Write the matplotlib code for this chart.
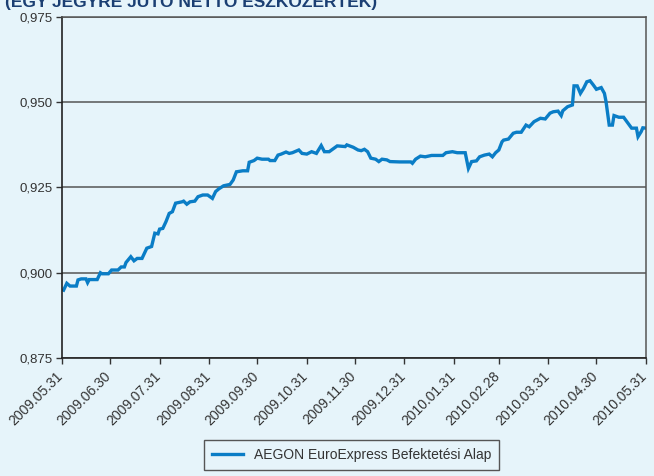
import datetime as dt

import matplotlib
matplotlib.use('Agg')
import matplotlib.pyplot as plt
import matplotlib.transforms as mtransforms

# napi nettó eszközérték (leolvasva)
dates = [
	'2009-06-01', '2009-06-03', '2009-06-05', '2009-06-09', '2009-06-10', '2009-06-12', '2009-06-15', '2009-06-16',
	'2009-06-17', '2009-06-22', '2009-06-24', '2009-06-25', '2009-06-29', '2009-07-01', '2009-07-05', '2009-07-07',
	'2009-07-09', '2009-07-10', '2009-07-13', '2009-07-15', '2009-07-17', '2009-07-20', '2009-07-23', '2009-07-26',
	'2009-07-28', '2009-07-30', '2009-07-31', '2009-08-02', '2009-08-04', '2009-08-06', '2009-08-08', '2009-08-10',
	'2009-08-14', '2009-08-15', '2009-08-17', '2009-08-19', '2009-08-22', '2009-08-24', '2009-08-27', '2009-08-30',
	'2009-09-02', '2009-09-04', '2009-09-06', '2009-09-09', '2009-09-13', '2009-09-15', '2009-09-17', '2009-09-21',
	'2009-09-24', '2009-09-25', '2009-09-28', '2009-09-30', '2009-10-03', '2009-10-07', '2009-10-08', '2009-10-11',
	'2009-10-13', '2009-10-15', '2009-10-18', '2009-10-20', '2009-10-22', '2009-10-26', '2009-10-28', '2009-10-31',
	'2009-11-03', '2009-11-06', '2009-11-09', '2009-11-11', '2009-11-14', '2009-11-19', '2009-11-24', '2009-11-25',
	'2009-11-29', '2009-12-02', '2009-12-04', '2009-12-06', '2009-12-08', '2009-12-10', '2009-12-13', '2009-12-15',
	'2009-12-17', '2009-12-20', '2009-12-22', '2009-12-28', '2010-01-04', '2010-01-05', '2010-01-07', '2010-01-10',
	'2010-01-13', '2010-01-17', '2010-01-24', '2010-01-26', '2010-01-30', '2010-02-02', '2010-02-07', '2010-02-09',
	'2010-02-11', '2010-02-14', '2010-02-16', '2010-02-19', '2010-02-22', '2010-02-24', '2010-02-26', '2010-02-28',
	'2010-03-02', '2010-03-03', '2010-03-06', '2010-03-09', '2010-03-11', '2010-03-14', '2010-03-17', '2010-03-19',
	'2010-03-22', '2010-03-26', '2010-03-29', '2010-04-01', '2010-04-03', '2010-04-06', '2010-04-08', '2010-04-09',
	'2010-04-12', '2010-04-15', '2010-04-16', '2010-04-18', '2010-04-20', '2010-04-22', '2010-04-24', '2010-04-26',
	'2010-04-28', '2010-04-30', '2010-05-03', '2010-05-05', '2010-05-06', '2010-05-08', '2010-05-10', '2010-05-11',
	'2010-05-14', '2010-05-17', '2010-05-19', '2010-05-22', '2010-05-25', '2010-05-26', '2010-05-28', '2010-05-29',
	'2010-05-31',
]
values = [
	0.8949, 0.8969, 0.8961, 0.8961, 0.8979, 0.8982, 0.8982, 0.8971,
	0.8980, 0.8980, 0.9000, 0.8997, 0.8997, 0.9008, 0.9008, 0.9017,
	0.9017, 0.9030, 0.9047, 0.9035, 0.9042, 0.9042, 0.9072, 0.9077,
	0.9116, 0.9114, 0.9128, 0.9130, 0.9150, 0.9174, 0.9179, 0.9204,
	0.9208, 0.9210, 0.9201, 0.9208, 0.9210, 0.9223, 0.9228, 0.9228,
	0.9218, 0.9238, 0.9246, 0.9255, 0.9259, 0.9272, 0.9296, 0.9299,
	0.9299, 0.9324, 0.9329, 0.9336, 0.9333, 0.9333, 0.9329, 0.9329,
	0.9345, 0.9348, 0.9354, 0.9350, 0.9352, 0.9360, 0.9350, 0.9348,
	0.9355, 0.9350, 0.9373, 0.9355, 0.9355, 0.9372, 0.9370, 0.9375,
	0.9368, 0.9360, 0.9358, 0.9362, 0.9355, 0.9336, 0.9333, 0.9326,
	0.9333, 0.9331, 0.9326, 0.9325, 0.9325, 0.9321, 0.9333, 0.9342,
	0.9340, 0.9344, 0.9344, 0.9352, 0.9355, 0.9352, 0.9352, 0.9306,
	0.9326, 0.9328, 0.9340, 0.9345, 0.9348, 0.9340, 0.9352, 0.9360,
	0.9384, 0.9389, 0.9392, 0.9409, 0.9412, 0.9412, 0.9433, 0.9428,
	0.9443, 0.9453, 0.9451, 0.9468, 0.9472, 0.9474, 0.9461, 0.9475,
	0.9487, 0.9492, 0.9548, 0.9548, 0.9526, 0.9541, 0.9560, 0.9563,
	0.9551, 0.9538, 0.9543, 0.9526, 0.9502, 0.9433, 0.9433, 0.9461,
	0.9456, 0.9456, 0.9443, 0.9424, 0.9424, 0.9399, 0.9414, 0.9425,
	0.9424,
]
tick_dates = ['2009-05-31', '2009-06-30', '2009-07-31', '2009-08-31', '2009-09-30', '2009-10-31', '2009-11-30',
	'2009-12-31', '2010-01-31', '2010-02-28', '2010-03-31', '2010-04-30', '2010-05-31']
y_ticks = [0.875, 0.900, 0.925, 0.950, 0.975]
series_name = 'AEGON EuroExpress Befektetési Alap'
title = '(EGY JEGYRE JUTÓ NETTÓ ESZKÖZÉRTÉK)'

bg = '#E6F4FA'
line_color = '#0A7DC6'
text_color = '#333333'

plt.rcParams['font.family'] = ['Liberation Sans', 'DejaVu Sans']

x = [dt.datetime.strptime(d, '%Y-%m-%d') for d in dates]
xt = [dt.datetime.strptime(d, '%Y-%m-%d') for d in tick_dates]

fig = plt.figure(figsize=(6.54, 4.76), dpi=100, facecolor=bg)
ax = fig.add_axes([0.0948, 0.2479, 0.893, 0.7164], facecolor=bg)

ax.plot(x, values, color=line_color, lw=2.4, label=series_name, solid_joinstyle='miter')

ax.set_xlim(xt[0], xt[-1])
ax.set_ylim(0.875, 0.975)
ax.set_yticks(y_ticks)
ax.set_yticklabels([f'{v:.3f}'.replace('.', ',') for v in y_ticks])
ax.set_xticks(xt)
ax.set_xticklabels([d.replace('-', '.') for d in tick_dates], rotation=45, ha='right', va='top',
	rotation_mode='anchor')
ax.grid(axis='y', color='#555555', lw=1.1)
ax.set_axisbelow(True)
ax.tick_params(axis='both', direction='out', length=4, width=1, color='#333333', labelsize=9.5,
	labelcolor=text_color, pad=3)
ax.tick_params(axis='x', labelsize=10, pad=4)
# labels sit a little left of their ticks, like the original
shift = mtransforms.ScaledTranslation(-6 / 100, 0, fig.dpi_scale_trans)
for lab in ax.get_xticklabels():
	lab.set_transform(lab.get_transform() + shift)
for side in ['left', 'bottom']:
	ax.spines[side].set_color('#222222')
	ax.spines[side].set_linewidth(1.2)
for side in ['top', 'right']:
	ax.spines[side].set_color('#555555')
	ax.spines[side].set_linewidth(1.1)

leg = fig.legend(loc='center', bbox_to_anchor=(0.5375, 1 - 455 / 476), frameon=True, fancybox=False,
	edgecolor='#555555', facecolor=bg, framealpha=1, handlelength=2.2,
	borderpad=0.6, prop={'family': ['Liberation Sans Narrow', 'Liberation Sans'], 'size': 10})
for t in leg.get_texts():
	t.set_color(text_color)

fig.text(0.008, 1 - 7 / 476, title, fontsize=12.5, fontweight='bold', color='#1B3F73', va='baseline', ha='left')

fig.savefig('out.png', dpi=100, facecolor=bg)
